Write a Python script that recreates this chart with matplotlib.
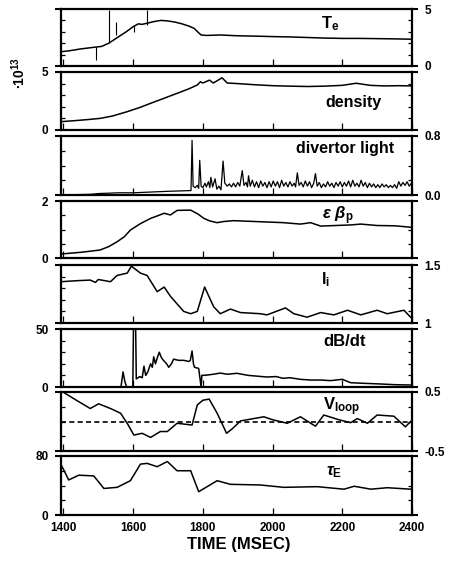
import matplotlib
matplotlib.use("Agg")
import matplotlib.pyplot as plt
from matplotlib.ticker import MultipleLocator, FixedLocator

plt.rcParams['font.family'] = ['Liberation Sans', 'DejaVu Sans']
plt.rcParams['font.weight'] = 'bold'
plt.rcParams['mathtext.fontset'] = 'custom'
plt.rcParams['mathtext.rm'] = 'Liberation Sans:bold'
plt.rcParams['mathtext.bf'] = 'Liberation Sans:bold'
plt.rcParams['mathtext.it'] = 'Liberation Sans:italic:bold'

# ---------------- data ----------------
te_t = [1393, 1420, 1450, 1490, 1510, 1530, 1555, 1580, 1600, 1615, 1625, 1640, 1660, 1680,
        1700, 1720, 1740, 1760, 1775, 1785, 1795, 1810, 1850, 1900, 1950, 2000, 2050, 2100,
        2150, 2200, 2250, 2300, 2350, 2400]
te_v = [1.25, 1.35, 1.5, 1.65, 1.72, 2.0, 2.5, 3.0, 3.45, 3.7, 3.65, 3.75, 3.9, 4.0,
        3.95, 3.85, 3.7, 3.5, 3.3, 3.0, 2.72, 2.68, 2.72, 2.65, 2.62, 2.58, 2.55, 2.5,
        2.45, 2.42, 2.42, 2.4, 2.38, 2.35]
te_spk_t = [1492, 1530, 1551, 1602, 1640]
te_spk_lo = [0.5, 2.05, 2.7, 3.0, 3.6]
te_spk_hi = [1.7, 4.9, 3.9, 3.5, 4.9]

den_t = [1393, 1430, 1470, 1505, 1540, 1583, 1620, 1650, 1690, 1726, 1760, 1784, 1793, 1800,
         1819, 1830, 1855, 1870, 1900, 1950, 2000, 2050, 2100, 2150, 2200, 2240, 2280, 2320,
         2360, 2400]
den_v = [0.72, 0.8, 0.9, 1.0, 1.2, 1.58, 1.95, 2.3, 2.75, 3.16, 3.55, 3.88, 4.16, 4.05,
         4.3, 4.05, 4.5, 4.05, 4.0, 3.9, 3.82, 3.78, 3.75, 3.78, 3.85, 4.03, 3.85, 3.8,
         3.82, 3.8]

div_t = [1393, 1480, 1500, 1560, 1600, 1700, 1766, 1769, 1772, 1778, 1784, 1788, 1791, 1795,
         1800, 1806, 1810, 1816, 1820, 1823, 1828, 1835, 1840, 1846, 1852, 1858, 1863, 1870,
         1876, 1882, 1888, 1894, 1900, 1906, 1913, 1918, 1924, 1928, 1931, 1936, 1942, 1948,
         1954, 1960, 1966, 1972, 1978, 1984, 1990, 1996, 2002, 2008, 2014, 2020, 2026, 2032,
         2038, 2044, 2050, 2056, 2062, 2066, 2071, 2076, 2082, 2088, 2094, 2100, 2106, 2112,
         2118, 2123, 2128, 2134, 2140, 2146, 2152, 2158, 2164, 2170, 2176, 2182, 2188, 2194,
         2200, 2206, 2212, 2218, 2224, 2230, 2236, 2242, 2248, 2254, 2260, 2266, 2272, 2278,
         2284, 2290, 2296, 2302, 2308, 2314, 2320, 2326, 2332, 2338, 2344, 2350, 2356, 2362,
         2368, 2374, 2380, 2386, 2392, 2400]
div_v = [0.0, 0.01, 0.02, 0.03, 0.03, 0.05, 0.06, 0.74, 0.12, 0.10, 0.13, 0.09, 0.47, 0.12,
         0.10, 0.16, 0.11, 0.18, 0.10, 0.24, 0.11, 0.22, 0.08, 0.12, 0.07, 0.46, 0.16, 0.12,
         0.15, 0.11, 0.16, 0.11, 0.17, 0.12, 0.33, 0.13, 0.17, 0.11, 0.26, 0.12, 0.20, 0.11,
         0.18, 0.10, 0.19, 0.12, 0.17, 0.10, 0.18, 0.11, 0.19, 0.12, 0.18, 0.10, 0.20, 0.12,
         0.17, 0.11, 0.18, 0.12, 0.16, 0.11, 0.30, 0.13, 0.17, 0.11, 0.19, 0.12, 0.18, 0.10,
         0.16, 0.29, 0.12, 0.17, 0.10, 0.15, 0.11, 0.18, 0.12, 0.16, 0.10, 0.17, 0.12, 0.18,
         0.11, 0.17, 0.12, 0.19, 0.11, 0.20, 0.12, 0.16, 0.11, 0.20, 0.12, 0.17, 0.10, 0.16,
         0.11, 0.15, 0.10, 0.14, 0.10, 0.15, 0.11, 0.14, 0.10, 0.13, 0.10, 0.14, 0.09, 0.18,
         0.12, 0.17, 0.13, 0.18, 0.12, 0.17]

eb_t = [1393, 1450, 1505, 1530, 1554, 1575, 1592, 1620, 1650, 1670, 1689, 1707, 1726, 1765,
        1785, 1803, 1820, 1841, 1860, 1888, 1950, 2031, 2080, 2109, 2138, 2180, 2224, 2253,
        2300, 2350, 2396]
eb_v = [0.14, 0.2, 0.28, 0.4, 0.57, 0.75, 0.98, 1.2, 1.39, 1.48, 1.57, 1.51, 1.67, 1.68,
        1.55, 1.39, 1.3, 1.24, 1.28, 1.31, 1.28, 1.24, 1.19, 1.24, 1.12, 1.14, 1.16, 1.19,
        1.14, 1.13, 1.08]

li_t = [1393, 1440, 1477, 1492, 1500, 1535, 1554, 1583, 1595, 1621, 1640, 1669, 1689, 1707,
        1745, 1765, 1784, 1805, 1831, 1850, 1879, 1908, 1965, 1984, 2037, 2061, 2099, 2138,
        2176, 2215, 2253, 2300, 2329, 2377, 2396]
li_v = [1.356, 1.365, 1.37, 1.35, 1.375, 1.356, 1.41, 1.43, 1.49, 1.43, 1.41, 1.27, 1.31, 1.23,
        1.10, 1.08, 1.10, 1.31, 1.14, 1.08, 1.12, 1.09, 1.08, 1.07, 1.13, 1.08, 1.05, 1.09,
        1.07, 1.11, 1.07, 1.11, 1.08, 1.11, 1.05]

db_t = [1393, 1565, 1571, 1576, 1581, 1599, 1601, 1607, 1609, 1619, 1626, 1631, 1636, 1642,
        1650, 1655, 1659, 1664, 1669, 1675, 1680, 1684, 1690, 1696, 1702, 1710, 1716, 1730,
        1745, 1760, 1764, 1769, 1773, 1776, 1788, 1795, 1797, 1812, 1830, 1850, 1870, 1898,
        1930, 1950, 1984, 2010, 2030, 2050, 2080, 2110, 2140, 2166, 2200, 2224, 2260, 2310,
        2350, 2400]
db_v = [0, 0, 13, 5, 0, 0, 55, 55, 7, 9, 8, 18, 10, 13,
        20, 17, 26, 20, 25, 30, 26, 24, 22, 20, 17, 20, 24, 23,
        23, 22, 23, 31, 20, 17, 16, 0, 10, 10.3, 11, 12, 11, 11.8,
        10, 9.5, 8.6, 9, 7.5, 8, 6.6, 6, 6, 5.5, 6.6, 3.7, 3.2, 2.6,
        2.0, 1.7]

vl_t = [1393, 1440, 1477, 1501, 1535, 1564, 1585, 1602, 1626, 1650, 1678, 1698, 1726, 1769,
        1784, 1800, 1818, 1841, 1868, 1885, 1908, 1975, 2000, 2042, 2080, 2123, 2147, 2190,
        2224, 2243, 2272, 2300, 2348, 2381, 2396]
vl_v = [0.52, 0.35, 0.22, 0.30, 0.22, 0.14, -0.05, -0.23, -0.20, -0.27, -0.17, -0.17, -0.03, -0.06,
        0.28, 0.36, 0.38, 0.14, -0.20, -0.12, 0.01, 0.08, 0.03, -0.03, 0.08, -0.08, 0.11, 0.03,
        -0.02, 0.05, -0.03, 0.11, 0.09, -0.09, 0.0]

tau_t = [1393, 1400, 1415, 1444, 1487, 1516, 1554, 1592, 1621, 1640, 1669, 1698, 1726, 1765,
         1788, 1841, 1879, 1965, 2032, 2128, 2205, 2234, 2282, 2329, 2396]
tau_v = [68, 62, 47.5, 54, 53, 36, 37.5, 46.5, 69, 70, 65.5, 72.5, 60, 60,
         31.6, 46.5, 41.6, 40.7, 37.5, 38.4, 35, 39, 35, 37, 35]

x_ticks = [1400, 1600, 1800, 2000, 2200, 2400]

# panel: (top px, bottom px, ylim, side, minor step, tick labels, label, label pos, fontsize)
panels = [
    (9, 66, (0, 5), 'right', 1, ['0', '5']),
    (72, 130, (0, 5), 'left', 1, ['0', '5']),
    (136, 195, (0, 0.8), 'right', 0.2, ['0.0', '0.8']),
    (201, 258, (0, 2), 'left', 0.5, ['0', '2']),
    (265, 323, (1, 1.5), 'right', 0.1, ['1', '1.5']),
    (329, 387, (0, 50), 'left', 10, ['0', '50']),
    (392, 451, (-0.5, 0.5), 'right', 0.25, ['-0.5', '0.5']),
    (456, 515, (0, 80), 'left', 20, ['0', '80']),
]

W, H = 449, 561
fig = plt.figure(figsize=(W / 100, H / 100), dpi=100)
axes = []
for i, (top, bot, yl, side, mstep, labs) in enumerate(panels):
    ax = fig.add_axes([61 / W, 1 - bot / H, 351 / W, (bot - top) / H])
    ax.set_xlim(1393, 2400)
    ax.set_ylim(*yl)
    for s in ax.spines.values():
        s.set_linewidth(1.6)
    ax.yaxis.set_major_locator(FixedLocator(list(yl)))
    ax.yaxis.set_minor_locator(MultipleLocator(mstep))
    ax.tick_params(axis='y', which='major', direction='out', length=4, width=1.5,
                   left=True, right=True, labelsize=8.5, pad=5)
    ax.tick_params(axis='y', which='minor', direction='in', length=3, width=0.9,
                   left=True, right=True)
    if side == 'right':
        ax.tick_params(axis='y', labelleft=False, labelright=True)
    else:
        ax.tick_params(axis='y', labelleft=True, labelright=False)
    ax.set_yticklabels(labs, fontweight='bold')
    ax.xaxis.set_major_locator(FixedLocator(x_ticks))
    ax.tick_params(axis='x', direction='in', length=5, width=0.9, labelsize=8.5,
                   labelbottom=(i == len(panels) - 1), pad=5)
    axes.append(ax)

lw = 1.1
axes[0].plot(te_t, te_v, color='black', lw=lw)
axes[0].vlines(te_spk_t, te_spk_lo, te_spk_hi, color='black', lw=0.8)
axes[1].plot(den_t, den_v, color='black', lw=lw)
axes[2].plot(div_t, div_v, color='black', lw=0.9)
axes[3].plot(eb_t, eb_v, color='black', lw=lw)
axes[4].plot(li_t, li_v, color='black', lw=lw)
axes[5].plot(db_t, db_v, color='black', lw=lw)
axes[6].plot(vl_t, vl_v, color='black', lw=lw)
axes[6].axhline(0, color='black', lw=1.2, ls=(0, (3, 2)))
axes[7].plot(tau_t, tau_v, color='black', lw=lw)
for lab in axes[7].get_xticklabels():
    lab.set_fontweight('bold')

def ftxt(x, y, s, size=11.5, **kw):
    fig.text(x / W, 1 - y / H, s, fontsize=size, fontweight='bold',
             ha='center', va='center', **kw)

ftxt(330, 24, r'$\mathbf{T}_\mathbf{e}$', 12)
ftxt(353, 103, 'density', 11.5)
ftxt(345, 149, 'divertor light', 11.5)
ftxt(338, 216, r'$\varepsilon\ \beta_\mathbf{p}$', 12)
ftxt(326, 280, r'$\mathbf{l}_\mathbf{i}$', 12)
ftxt(345, 341, 'dB/dt', 12)
ftxt(342, 407, r'$\mathbf{V}_\mathbf{loop}$', 12)
ftxt(334, 472, r'$\tau_\mathbf{E}$', 12)
ftxt(19, 73, r'$\bullet\mathbf{10}^{\mathbf{13}}$', 10, rotation=90)
ftxt(239, 545, 'TIME (MSEC)', 12)

fig.savefig('out.png', dpi=100)
